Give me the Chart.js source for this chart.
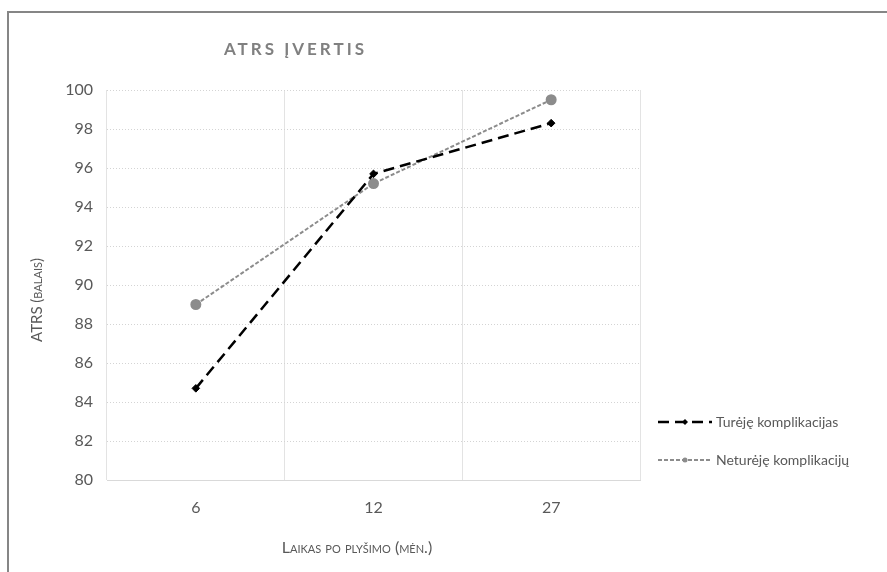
<!DOCTYPE html>
<html>
<head>
<meta charset="utf-8">
<script src="https://cdn.jsdelivr.net/npm/chart.js@4.4.1/dist/chart.umd.min.js"></script>
<style>
  body { margin: 0; background: #fff; }
  #wrap { position: relative; width: 887px; height: 572px; }
  #frame { position: absolute; left: 7px; top: 11px; right: -5px; bottom: -5px;
           border-top: 2px solid #868686; border-left: 2px solid #868686; }
  #myChart { position: absolute; left: 0; top: 0; }
</style>
</head>
<body>
<div id="wrap">
  <div id="frame"></div>
  <canvas id="myChart" width="887" height="572"></canvas>
</div>
<script>
// months after rupture
var months = ['6', '12', '27'];
var withComplications = [84.7, 95.7, 98.3];
var withoutComplications = [89.0, 95.2, 99.5];
var seriesNames = ['Turėję komplikacijas', 'Neturėję komplikacijų'];
var yTicks = [80, 82, 84, 86, 88, 90, 92, 94, 96, 98, 100];

var chartTitle = 'ATRS ĮVERTIS';
var yTitle = 'ATRS (balais)';
var xTitle = 'Laikas po plyšimo (mėn.)';

var textGrey = '#595959';
var fontName = 'Lato, "Open Sans", sans-serif';

// title, axis titles and legend, drawn like the excel version
var extras = {
  id: 'extras',
  afterDraw: function (chart) {
    var c = chart.ctx;
    c.save();
    c.fillStyle = '#808080';
    c.font = 'bold 17px ' + fontName;
    c.letterSpacing = '3px';
    c.textBaseline = 'middle';
    c.textAlign = 'left';
    c.fillText(chartTitle, 224, 50);
    c.letterSpacing = '0px';

    c.fillStyle = textGrey;
    c.font = 'small-caps 16px ' + fontName;
    c.textAlign = 'center';
    c.fillText(xTitle, 357, 548);

    c.save();
    c.font = 'small-caps 15px ' + fontName;
    c.translate(37, 300);
    c.rotate(-Math.PI / 2);
    c.fillText(yTitle, 0, 0);
    c.restore();

    // legend
    var rows = [422, 460];
    chart.data.datasets.forEach(function (ds, i) {
      var y = rows[i];
      c.save();
      c.strokeStyle = ds.borderColor;
      c.lineWidth = ds.borderWidth;
      c.setLineDash(ds.borderDash);
      c.beginPath();
      c.moveTo(658, y);
      c.lineTo(712, y);
      c.stroke();
      c.restore();
      c.fillStyle = ds.pointBackgroundColor;
      c.beginPath();
      if (ds.pointStyle === 'circle') {
        c.arc(685, y, 2.5, 0, Math.PI * 2);
      } else {
        c.moveTo(685, y - 3); c.lineTo(688, y); c.lineTo(685, y + 3); c.lineTo(682, y); c.closePath();
      }
      c.fill();
      c.fillStyle = textGrey;
      c.font = '14px ' + fontName;
      c.textAlign = 'left';
      c.textBaseline = 'middle';
      c.fillText(seriesNames[i], 716, y);
    });
    c.restore();
  }
};

var ctx = document.getElementById('myChart').getContext('2d');
var myChart = new Chart(ctx, {
  type: 'line',
  data: {
    labels: months,
    datasets: [{
      label: seriesNames[0],
      data: withComplications,
      borderColor: '#000000',
      borderWidth: 2.5,
      borderDash: [11, 6],
      pointStyle: 'rectRot',
      pointRadius: 3.8,
      pointBorderWidth: 1,
      pointBackgroundColor: '#000000',
      pointBorderColor: '#000000',
      tension: 0
    }, {
      label: seriesNames[1],
      data: withoutComplications,
      borderColor: '#8c8c8c',
      borderWidth: 2,
      borderDash: [4, 2],
      pointStyle: 'circle',
      pointRadius: 4.5,
      pointBackgroundColor: '#8c8c8c',
      pointBorderColor: '#8c8c8c',
      tension: 0
    }]
  },
  options: {
    responsive: false,
    animation: false,
    layout: { padding: { left: 8, top: 90, right: 247, bottom: 0 } },
    plugins: {
      legend: { display: false },
      tooltip: { enabled: false }
    },
    scales: {
      x: {
        offset: true,
        grid: {
          offset: true,
          drawTicks: false,
          color: function (g) { return g.index === months.length ? 'rgba(0,0,0,0)' : '#e3e3e3'; }
        },
        border: { color: '#d9d9d9' },
        ticks: { color: textGrey, padding: 18, font: { family: fontName, size: 16 } },
        afterFit: function (s) { s.height = 92; }
      },
      y: {
        min: 80,
        max: 100,
        afterBuildTicks: function (s) { s.ticks = yTicks.map(function (v) { return { value: v }; }); },
        grid: { color: '#d4d4d4', drawTicks: false },
        border: { display: false, dash: [1, 2] },
        ticks: { color: textGrey, padding: 14, font: { family: fontName, size: 16 } },
        afterFit: function (s) { s.width = 99; }
      }
    }
  },
  plugins: [extras]
});
</script>
</body>
</html>
